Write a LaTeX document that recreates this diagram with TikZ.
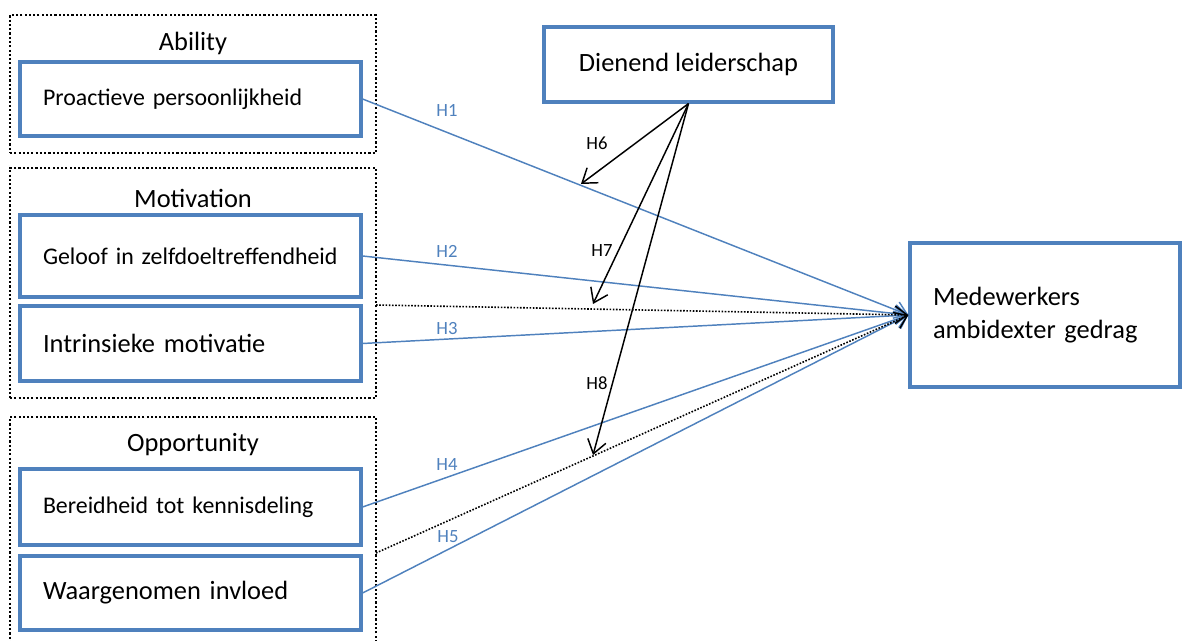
\documentclass[tikz,border=0pt]{standalone}
\usepackage{fontspec}
\setmainfont{Carlito}
\usetikzlibrary{arrows.meta}
\definecolor{boxblue}{RGB}{79,129,189}
\tikzset{
  group/.style={draw=black, line width=2pt, dash pattern=on 1.6pt off 1.6pt,
    minimum width=274.5pt, inner sep=0pt},
  grouplabel/.style={font=\fontsize{19.8}{22}\selectfont, inner sep=0pt},
  item/.style={draw=boxblue, line width=2.4pt, rectangle, inner sep=0pt,
    inner xsep=17.25pt, minimum width=255.75pt, text width=221.25pt, align=left},
  small/.style={font=\fontsize{17.9}{21}\selectfont},
  big/.style={font=\fontsize{19.8}{23}\selectfont},
  effect/.style={draw=boxblue, line width=1.1pt, -{Straight Barb[length=9pt,width=13pt,line width=1.1pt]}},
  moderation/.style={draw=black, line width=1.1pt, -{Straight Barb[length=10pt,width=14pt,line width=1.1pt]}},
  control/.style={draw=black, line width=1.2pt, dash pattern=on 1.2pt off 1.2pt,
    -{Straight Barb[length=9pt,width=13pt,line width=1.1pt]}},
  hlabel/.style={font=\fontsize{14}{16}\selectfont, inner sep=0pt},
}
\begin{document}
\begin{tikzpicture}[x=0.75pt, y=-0.75pt]
\useasboundingbox (0,0) rectangle (1183,641);
\clip (0,0) rectangle (1183,641);

% dotted groups
\node[group, minimum height=103.5pt] (gA) at (193,84) {};
\node[group, minimum height=172.5pt] (gM) at (193,283) {};
\node[group, minimum height=195pt] (gO) at (193,547) {};
\node[grouplabel] (lA) at (193,43) {Ability};
\node[grouplabel] (lM) at (193,198) {Motivation};
\node[grouplabel] (lO) at (193,445) {Opportunity};

% predictor boxes
\node[item, small, minimum height=55.5pt]  (pro) at (190.5,99)   {Proactieve persoonlijkheid};
\node[item, small, minimum height=61.5pt]  (gel) at (190.5,256)  {Geloof in zelfdoeltreffendheid};
\node[item, big,   minimum height=56.25pt] (int) at (190.5,343.5){Intrinsieke motivatie};
\node[item, small, minimum height=57pt]    (ber) at (190.5,507)  {Bereidheid tot kennisdeling};
\node[item, big,   minimum height=55.5pt]  (waa) at (190.5,593)  {Waargenomen invloed};

% moderator and outcome
\node[draw=boxblue, line width=2.4pt, inner sep=0pt, minimum width=216.75pt,
  minimum height=56.25pt, big] (dien) at (688.5,64.5) {Dienend leiderschap};
\node[draw=boxblue, line width=2.4pt, inner sep=0pt, inner xsep=17.25pt,
  minimum width=202.5pt, minimum height=108pt, text width=168pt, align=left,
  font=\fontsize{19.8}{24.75}\selectfont] (med) at (1045,315)
  {Medewerkers\\ambidexter gedrag};

% start points of the dotted paths and moderator targets
\coordinate (mEdge) at (376,305);
\coordinate (oEdge) at (376,553);
\coordinate (t6) at (581,184);
\coordinate (t7) at (593,304);
\coordinate (t8) at (593,455);

% direct effects
\draw[effect] (pro.east) -- (med.west);
\draw[effect] (gel.east) -- (med.west);
\draw[effect] (int.east) -- (med.west);
\draw[effect] (ber.east) -- (med.west);
\draw[effect] (waa.east) -- (med.west);
\draw[control] (mEdge) -- (med.west);
\draw[control] (oEdge) -- (med.west);

% moderation effects
\draw[moderation] (dien.south) -- (t6);
\draw[moderation] (dien.south) -- (t7);
\draw[moderation] (dien.south) -- (t8);

% labels
\node[hlabel, text=boxblue] (h1) at (447,110) {H1};
\node[hlabel, text=boxblue] (h2) at (447,251) {H2};
\node[hlabel, text=boxblue] (h3) at (447,329) {H3};
\node[hlabel, text=boxblue] (h4) at (447,465) {H4};
\node[hlabel, text=boxblue] (h5) at (448,537) {H5};
\node[hlabel] (h6) at (597,143) {H6};
\node[hlabel] (h7) at (602,251) {H7};
\node[hlabel] (h8) at (597,383) {H8};
\end{tikzpicture}
\end{document}
